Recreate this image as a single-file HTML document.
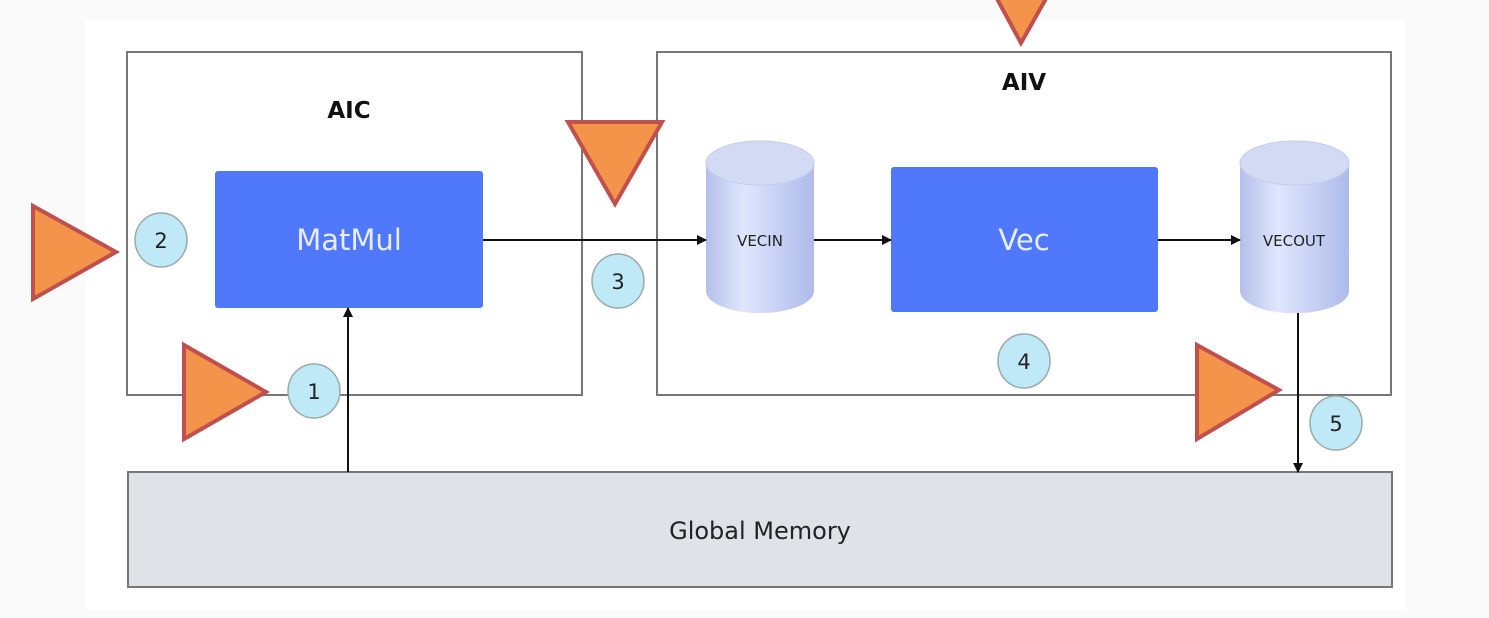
<!DOCTYPE html>
<html><head><style>html,body{margin:0;padding:0;background:#fafafa}</style></head>
<body>
<svg width="1489" height="613" xmlns="http://www.w3.org/2000/svg" font-family="'DejaVu Sans','Liberation Sans',sans-serif">
<defs>
<marker id="a" markerWidth="10" markerHeight="10" refX="9" refY="5" orient="auto" markerUnits="userSpaceOnUse"><path d="M0,0 L10,5 L0,10 z" fill="#111"/></marker>
<linearGradient id="cy" x1="0" x2="1" y1="0" y2="0">
<stop offset="0" stop-color="#b4c0ea"/><stop offset="0.35" stop-color="#dfe6fd"/><stop offset="1" stop-color="#aebbea"/></linearGradient>
</defs>
<rect x="85" y="20" width="1320" height="590" fill="#fff"/>
<rect x="127" y="52" width="455" height="343" fill="none" stroke="#777" stroke-width="2"/>
<rect x="657" y="52" width="734" height="343" fill="none" stroke="#777" stroke-width="2"/>
<text x="349" y="118" font-size="23" font-weight="bold" text-anchor="middle" fill="#111">AIC</text>
<text x="1024" y="90" font-size="23" font-weight="bold" text-anchor="middle" fill="#111">AIV</text>
<rect x="215" y="171" width="268" height="137" rx="3" fill="#5078fa"/>
<text x="349" y="250" font-size="29" text-anchor="middle" fill="#e8eeff">MatMul</text>
<rect x="891" y="167" width="267" height="145" rx="3" fill="#5078fa"/>
<text x="1024" y="250" font-size="29" text-anchor="middle" fill="#e8eeff">Vec</text>
<g>
<path d="M706,163 L706,291 A54,22 0 0 0 814,291 L814,163 Z" fill="url(#cy)"/>
<ellipse cx="760" cy="163" rx="54" ry="22" fill="#d3dbf4" stroke="#c3cbe8"/>
<text x="760" y="246" font-size="15" text-anchor="middle" fill="#222">VECIN</text>
<path d="M1240,163 L1240,291 A54,22 0 0 0 1349,291 L1349,163 Z" fill="url(#cy)"/>
<ellipse cx="1294.5" cy="163" rx="54.5" ry="22" fill="#d3dbf4" stroke="#c3cbe8"/>
<text x="1294" y="246" font-size="15" text-anchor="middle" fill="#222">VECOUT</text>
</g>
<rect x="128" y="472" width="1264" height="115" fill="#e0e2e7" stroke="#777" stroke-width="2"/>
<text x="760" y="539" font-size="24" text-anchor="middle" fill="#222">Global Memory</text>
<g stroke="#111" stroke-width="2" fill="none">
<line x1="483" y1="240" x2="706" y2="240" marker-end="url(#a)"/>
<line x1="814" y1="240" x2="891" y2="240" marker-end="url(#a)"/>
<line x1="1158" y1="240" x2="1240" y2="240" marker-end="url(#a)"/>
<line x1="348" y1="472" x2="348" y2="308" marker-end="url(#a)"/>
<line x1="1298" y1="313" x2="1298" y2="472" marker-end="url(#a)"/>
</g>
<g fill="#bfe9f7" stroke="#9aa" stroke-width="1.5">
<ellipse cx="161" cy="240" rx="26" ry="27"/>
<ellipse cx="314" cy="391" rx="26" ry="27"/>
<ellipse cx="618" cy="281" rx="26" ry="27"/>
<ellipse cx="1024" cy="361" rx="26" ry="27"/>
<ellipse cx="1336" cy="423" rx="26" ry="27"/>
</g>
<g font-size="21" text-anchor="middle" fill="#222">
<text x="161" y="248">2</text><text x="314" y="399">1</text><text x="618" y="289">3</text><text x="1024" y="369">4</text><text x="1336" y="431">5</text>
</g>
<g fill="#f4944a" stroke="#c0504d" stroke-width="4" stroke-linejoin="miter">
<polygon points="33,206 33,299 116,252"/>
<polygon points="184,345 184,439 266,392"/>
<polygon points="568,122 662,122 615,204"/>
<polygon points="995,-5 1048,-5 1021,43"/>
<polygon points="1197,345 1197,439 1279,390"/>
</g>
</svg>
</body></html>
